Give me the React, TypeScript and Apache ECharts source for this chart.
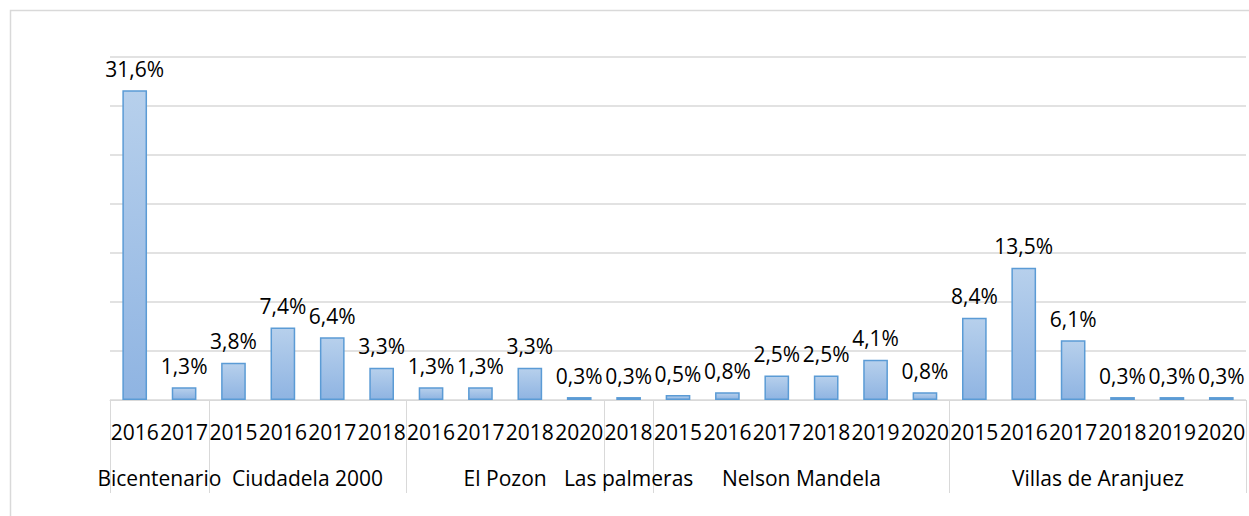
import React, { useEffect, useRef } from "react";
import * as echarts from "echarts";

const groups = ["Bicentenario", "Ciudadela 2000", "El Pozon", "Las palmeras", "Nelson Mandela", "Villas de Aranjuez"];
const groupYears = [
  ["2016", "2017"],
  ["2015", "2016", "2017", "2018"],
  ["2016", "2017", "2018", "2020"],
  ["2018"],
  ["2015", "2016", "2017", "2018", "2019", "2020"],
  ["2015", "2016", "2017", "2018", "2019", "2020"],
];
const groupValues = [
  [31.6, 1.3],
  [3.8, 7.4, 6.4, 3.3],
  [1.3, 1.3, 3.3, 0.3],
  [0.3],
  [0.5, 0.8, 2.5, 2.5, 4.1, 0.8],
  [8.4, 13.5, 6.1, 0.3, 0.3, 0.3],
];

const FONT = "Open Sans";
const GRID_COLOR = "#d9d9d9";

export default function App() {
  const ref = useRef<HTMLDivElement>(null);

  useEffect(() => {
    document.body.style.margin = "0";
    if (!ref.current) return;
    const chart = echarts.init(ref.current, undefined, { renderer: "svg" });

    const categories: string[] = [];
    const values: number[] = [];
    const boundaries: number[] = [0];
    const centers: number[] = [];
    const centerNames: Record<string, string> = {};
    groups.forEach((g, gi) => {
      const start = categories.length;
      groupYears[gi].forEach((y, yi) => {
        categories.push(g + "|" + y);
        values.push(groupValues[gi][yi]);
      });
      const end = categories.length;
      boundaries.push(end);
      const c = (start + end) / 2;
      centers.push(c);
      centerNames[String(c)] = g;
    });
    const total = categories.length;

    chart.setOption({
      animation: false,
      textStyle: { fontFamily: FONT },
      graphic: [
        {
          type: "rect",
          shape: { x: 10.5, y: 10.5, width: 1400, height: 700 },
          style: { fill: "none", stroke: GRID_COLOR, lineWidth: 1.5 },
          silent: true,
        },
      ],
      grid: { left: 110, right: 3, top: 57, bottom: 116 },
      xAxis: [
        {
          type: "category",
          data: categories,
          boundaryGap: true,
          axisLine: { show: true, lineStyle: { color: GRID_COLOR, width: 1 } },
          axisTick: { show: false },
          axisLabel: {
            interval: 0,
            margin: 21,
            color: "#000",
            fontFamily: FONT,
            fontSize: 21,
            formatter: (v: string) => v.split("|")[1],
          },
          splitLine: { show: false },
        },
        {
          type: "value",
          position: "bottom",
          min: 0,
          max: total,
          axisLine: { show: false },
          splitLine: { show: false },
          axisTick: {
            show: true,
            customValues: boundaries,
            length: 93,
            lineStyle: { color: GRID_COLOR, width: 1 },
          },
          axisLabel: {
            show: true,
            customValues: centers,
            margin: 67,
            color: "#000",
            fontFamily: FONT,
            fontSize: 21,
            formatter: (v: number) => centerNames[String(v)] || "",
          },
        },
      ],
      yAxis: {
        type: "value",
        min: 0,
        max: 35,
        interval: 5,
        axisLine: { show: false },
        axisTick: { show: false },
        axisLabel: { show: false },
        splitLine: { show: true, lineStyle: { color: GRID_COLOR, width: 1.5 } },
      },
      series: [
        {
          type: "bar",
          xAxisIndex: 0,
          data: values,
          barWidth: "50%",
          itemStyle: {
            color: new echarts.graphic.LinearGradient(0, 0, 0, 1, [
              { offset: 0, color: "#b7d0ec" },
              { offset: 1, color: "#8fb4e2" },
            ]),
            borderColor: "#5b9bd5",
            borderWidth: 1.5,
          },
          label: {
            show: true,
            position: "top",
            distance: 11,
            color: "#000",
            fontFamily: FONT,
            fontSize: 21,
            formatter: (p: any) => p.value.toFixed(1).replace(".", ",") + "%",
          },
        },
      ],
    });

    return () => chart.dispose();
  }, []);

  return <div ref={ref} style={{ width: 1249, height: 516 }} />;
}
